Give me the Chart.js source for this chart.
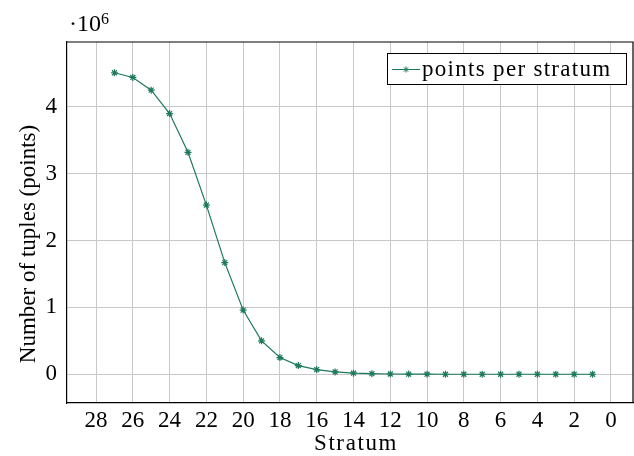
<!DOCTYPE html>
<html lang="en">
<head>
    <meta charset="UTF-8">
    <title>Points per stratum</title>
    <script src="https://cdn.jsdelivr.net/npm/chart.js"></script>
    <style>
        html, body { margin: 0; padding: 0; background: #fff; overflow: hidden; }
        canvas { display: block; }
    </style>
</head>
<body>
    <canvas id="strataChart" width="634" height="456"></canvas>

    <script>
        // data
        const strata = [27, 26, 25, 24, 23, 22, 21, 20, 19, 18, 17, 16, 15, 14, 13, 12, 11, 10, 9, 8, 7, 6, 5, 4, 3, 2, 1];
        const pointsPerStratum = [4.51e6, 4.44e6, 4.25e6, 3.9e6, 3.32e6, 2.53e6, 1.67e6, 0.96e6, 0.5e6, 0.25e6, 0.13e6, 0.07e6,
            0.035e6, 0.016e6, 0.008e6, 0.004e6, 0.002e6, 0.001e6, 0, 0, 0, 0, 0, 0, 0, 0, 0];
        const xTicks = [28, 26, 24, 22, 20, 18, 16, 14, 12, 10, 8, 6, 4, 2, 0];
        const yTicks = [0, 1e6, 2e6, 3e6, 4e6];

        const green = 'rgb(30,122,90)';
        const serif = "'Liberation Serif', 'DejaVu Serif', serif";

        // pgfplots-like extras: frame, axis titles, the ·10^6 label and the boxed legend
        const extras = {
            id: 'extras',
            afterDatasetsDraw(chart) {
                const a = chart.chartArea, c = chart.ctx;
                c.save();
                c.strokeStyle = '#000';
                c.lineWidth = 1.2;
                c.beginPath();
                c.moveTo(a.left, a.top);
                c.lineTo(a.right, a.top);
                c.lineTo(a.right, a.bottom);
                c.stroke();
                c.restore();
            },
            afterDraw(chart) {
                const ctx = chart.ctx;
                ctx.save();
                ctx.fillStyle = '#000';
                ctx.textBaseline = 'alphabetic';
                ctx.font = '24px ' + serif;
                ctx.fillText('\u00b710', 69, 31);
                ctx.font = '16px ' + serif;
                ctx.fillText('6', 101, 24);

                // axis titles
                ctx.font = '23px ' + serif;
                ctx.letterSpacing = '1.6px';
                ctx.textAlign = 'center';
                ctx.textBaseline = 'middle';
                ctx.fillText('Stratum', 356, 444);
                ctx.save();
                ctx.translate(29, 244);
                ctx.rotate(-Math.PI / 2);
                ctx.letterSpacing = '0px';
                ctx.fillText('Number of tuples (points)', 0, 0);
                ctx.restore();

                // legend box
                const bx = 387, by = 53, bw = 239, bh = 31;
                ctx.fillStyle = '#fff';
                ctx.fillRect(bx, by, bw, bh);
                ctx.strokeStyle = '#000';
                ctx.lineWidth = 1;
                ctx.strokeRect(bx + 0.5, by + 0.5, bw, bh);
                ctx.strokeStyle = green;
                ctx.beginPath();
                ctx.moveTo(bx + 5, by + 16.5);
                ctx.lineTo(bx + 33, by + 16.5);
                ctx.stroke();
                ctx.fillStyle = green;
                Chart.helpers.drawPoint(ctx, { pointStyle: 'star', radius: 3, borderWidth: 1 }, bx + 19, by + 16.5);
                ctx.fillStyle = '#000';
                ctx.textAlign = 'left';
                ctx.textBaseline = 'alphabetic';
                ctx.font = '23px ' + serif;
                ctx.letterSpacing = '1.3px';
                ctx.fillText(chart.data.datasets[0].label, bx + 35, by + 23);
                ctx.restore();
            }
        };

        const ctx = document.getElementById('strataChart').getContext('2d');
        new Chart(ctx, {
            type: 'line',
            data: {
                datasets: [{
                    label: 'points per stratum',
                    data: strata.map((s, i) => ({ x: s, y: pointsPerStratum[i] })),
                    borderColor: green,
                    backgroundColor: green,
                    borderWidth: 1.2,
                    pointStyle: 'star',
                    pointRadius: 3.5,
                    pointBorderWidth: 1.2,
                    tension: 0,
                    fill: false
                }]
            },
            options: {
                responsive: false,
                animation: false,
                layout: { autoPadding: false, padding: { top: 42, right: 1, left: 0, bottom: 0 } },
                plugins: { legend: { display: false }, tooltip: { enabled: false } },
                scales: {
                    x: {
                        type: 'linear',
                        reverse: true,
                        min: -1.2,
                        max: 29.58,
                        afterBuildTicks: s => { s.ticks = xTicks.map(v => ({ value: v })); },
                        afterFit: s => { s.height = 53; },
                        grid: { color: '#c8c8c8', drawTicks: false },
                        border: { color: '#000', width: 1.2 },
                        ticks: { color: '#000', font: { family: serif, size: 23 }, padding: 4, maxRotation: 0, autoSkip: false }
                    },
                    y: {
                        min: -0.43e6,
                        max: 4.97e6,
                        afterBuildTicks: s => { s.ticks = yTicks.map(v => ({ value: v })); },
                        afterFit: s => { s.width = 67; },
                        grid: { color: '#c8c8c8', drawTicks: false },
                        border: { color: '#000', width: 1.2 },
                        ticks: { color: '#000', font: { family: serif, size: 23 }, padding: 10, callback: v => v / 1e6 }
                    }
                }
            },
            plugins: [extras]
        });
    </script>
</body>
</html>
